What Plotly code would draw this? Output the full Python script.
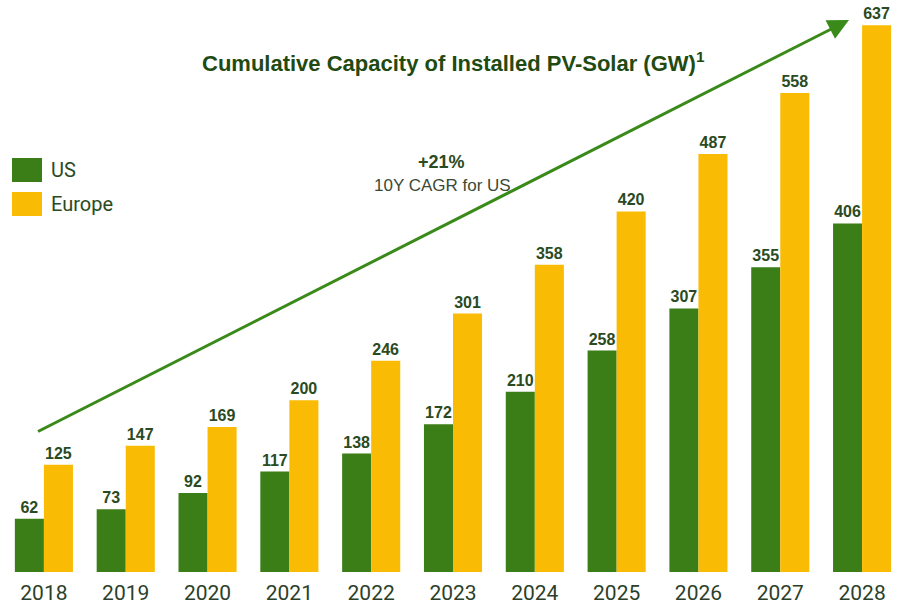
import plotly.graph_objects as go

years = ["2018", "2019", "2020", "2021", "2022", "2023", "2024", "2025", "2026", "2027", "2028"]
us = [62, 73, 92, 117, 138, 172, 210, 258, 307, 355, 406]
europe = [125, 147, 169, 200, 246, 301, 358, 420, 487, 558, 637]

GREEN = "#3b7d17"
YELLOW = "#f9bb03"
DARK = "#2a4a22"

L, T, B = 3, 20, 38
PW = 903 - L
PH = 610 - T - B
BASE = T + PH


def px(x):
    return (x - L) / PW


def py(y):
    return (BASE - y) / PH


fig = go.Figure()
fig.add_trace(go.Bar(x=years, y=us, name="US", marker=dict(color=GREEN, line=dict(width=0)),
                     text=us, textposition="outside", cliponaxis=False,
                     textfont=dict(family="Liberation Sans", size=16, color=DARK)))
fig.add_trace(go.Bar(x=years, y=europe, name="Europe", marker=dict(color=YELLOW, line=dict(width=0)),
                     text=europe, textposition="outside", cliponaxis=False,
                     textfont=dict(family="Liberation Sans", size=16, color=DARK)))

fig.update_traces(texttemplate="<b>%{text}</b>")

fig.update_layout(
    width=903, height=610,
    margin=dict(l=L, r=0, t=T, b=B, autoexpand=False),
    paper_bgcolor="white", plot_bgcolor="white",
    barmode="group", bargap=0.29, bargroupgap=0,
    showlegend=False,
    uniformtext=dict(mode=False),
    xaxis=dict(showgrid=False, showline=False, ticks="", zeroline=False, automargin=False,
               range=[-0.5, 10.5], ticklabelstandoff=6,
               tickfont=dict(family="Roboto", size=21, color="#2c3f2a")),
    yaxis=dict(visible=False, range=[0, 643], showgrid=False, zeroline=False, automargin=False),
    font=dict(family="Roboto"),
)

# Title
fig.add_annotation(xref="paper", yref="paper", x=px(454), y=py(62), xanchor="center", yanchor="middle",
                   text="<b>Cumulative Capacity of Installed PV-Solar (GW)<sup>1</sup></b>", showarrow=False,
                   font=dict(family="Liberation Sans", size=22, color="#1f4a12"))

# Arrow
fig.add_annotation(xref="paper", yref="paper", x=px(849), y=py(20),
                   axref="pixel", ayref="pixel", ax=-814, ay=413, text=" ", showarrow=True,
                   arrowhead=2, arrowsize=1.4, arrowwidth=3, arrowcolor="#3a8a1a")

# CAGR annotation
fig.add_annotation(xref="paper", yref="paper", x=px(441), y=py(162),
                   xanchor="center", yanchor="middle", text="<b>+21%</b>", showarrow=False,
                   font=dict(family="Liberation Sans", size=18, color=DARK))
fig.add_annotation(xref="paper", yref="paper", x=px(442), y=py(185),
                   xanchor="center", yanchor="middle", text="10Y CAGR for US", showarrow=False,
                   font=dict(family="Liberation Sans", size=17, color="#3a4a36"))

# Legend (custom)
for i, (name, col) in enumerate([("US", GREEN), ("Europe", YELLOW)]):
    top = 158 + i * 34
    fig.add_shape(type="rect", xref="paper", yref="paper",
                  x0=px(12), x1=px(42),
                  y0=py(top), y1=py(top + 24),
                  fillcolor=col, line=dict(width=0))
    fig.add_annotation(xref="paper", yref="paper", x=px(49), y=py(top + 12),
                       xanchor="left", yanchor="middle", text=name, showarrow=False,
                       font=dict(family="Roboto", size=20, color=DARK))

fig.write_html("out.html", config={"displayModeBar": False},
               post_script="document.body.style.margin='0';document.body.style.overflow='hidden';")
